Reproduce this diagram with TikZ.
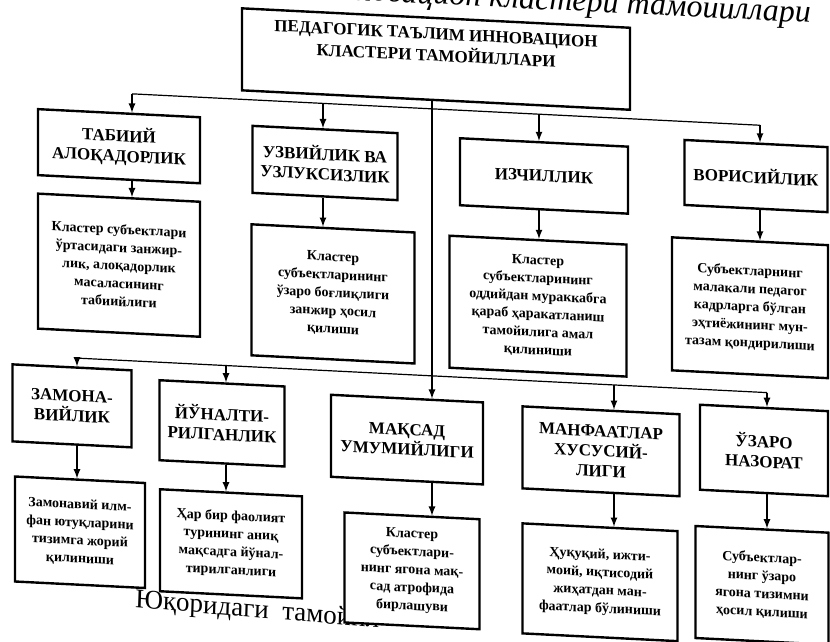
\documentclass[tikz,border=0pt]{standalone}
\usepackage{fontspec}
\setmainfont{Liberation Serif}
\begin{document}
\begin{tikzpicture}[x=0.5pt,y=-0.5pt,>=latex,
  head/.style={draw,line width=1.2pt,fill=white,align=center,inner sep=1pt,
    font=\bfseries\fontsize{8.5}{10}\selectfont},
  desc/.style={draw,line width=1.2pt,fill=white,align=center,inner sep=1pt,
    font=\bfseries\fontsize{7}{9}\selectfont},
  link/.style={line width=0.6pt}]

\useasboundingbox (0,0) rectangle (830,642);

\begin{scope}[shift={(415,0)},yslant=-0.05,shift={(-415,0)},transform shape]

% page text
\node [anchor=base east,font=\itshape\fontsize{16}{18}\selectfont] (caption) at (818,3) {инновацион кластери тамойиллари};
\node [anchor=base west,rotate=-2,font=\fontsize{13.5}{16}\selectfont] (para) at (128,621) {Юқоридаги\ \ тамойил};

% title
\node [head,minimum width=194pt,minimum height=41pt,font=\bfseries\fontsize{8.5}{11}\selectfont] (top) at (436,58) {ПЕДАГОГИК ТАЪЛИМ ИННОВАЦИОН\\КЛАСТЕРИ ТАМОЙИЛЛАРИ\\\strut};

% first row
\node [head,minimum width=81pt,minimum height=33pt] (tab) at (119,161) {ТАБИИЙ\\АЛОҚАДОРЛИК};
\node [desc,minimum width=81pt,minimum height=67.5pt] (tabd) at (119,280) {Кластер субъектлари\\ўртасидаги занжир-\\лик, алоқадорлик\\масаласининг\\табиийлиги};

\node [head,minimum width=72.5pt,minimum height=33.5pt] (uzv) at (325,167.5) {УЗВИЙЛИК ВА\\УЗЛУКСИЗЛИК};
\node [desc,minimum width=81.5pt,minimum height=65.5pt] (uzvd) at (333,298) {Кластер\\субъектларининг\\ўзаро боғлиқлиги\\занжир ҳосил\\қилиши};

\node [head,minimum width=84pt,minimum height=33.5pt] (izc) at (544,169.5) {ИЗЧИЛЛИК};
\node [desc,minimum width=88.5pt,minimum height=66pt] (izcd) at (538,300) {Кластер\\субъектларининг\\оддийдан мураккабга\\қараб ҳаракатланиш\\тамойилига амал\\қилиниши};

\node [head,minimum width=71.5pt,minimum height=32.5pt] (vor) at (756,159) {ВОРИСИЙЛИК};
\node [desc,minimum width=78pt,minimum height=66.5pt] (vord) at (750,291) {Субъектларнинг\\малакали педагог\\кадрларга бўлган\\эҳтиёжининг мун-\\тазам қондирилиши};

% second row
\node [head,minimum width=59.5pt,minimum height=38.5pt] (zam) at (72,423) {ЗАМОНА-\\ВИЙЛИК};
\node [desc,minimum width=65pt,minimum height=52.5pt] (zamd) at (80,549) {Замонавий илм-\\фан ютуқларини\\тизимга жорий\\қилиниши};

\node [head,minimum width=62.5pt,minimum height=40pt] (yun) at (222,433) {ЙЎНАЛТИ-\\РИЛГАНЛИК};
\node [desc,minimum width=71pt,minimum height=51pt] (yund) at (231,553) {Ҳар бир фаолият\\турининг аниқ\\мақсадга йўнал-\\тирилганлиги};

\node [head,minimum width=76pt,minimum height=41pt] (maq) at (407,440) {МАҚСАД\\УМУМИЙЛИГИ};
\node [desc,minimum width=67.5pt,minimum height=55pt] (maqd) at (412,571) {Кластер\\субъектлари-\\нинг ягона мақ-\\сад атрофида\\бирлашуви};

\node [head,minimum width=78.5pt,minimum height=41pt] (man) at (601,442) {МАНФААТЛАР\\ХУСУСИЙ-\\ЛИГИ};
\node [desc,minimum width=77.5pt,minimum height=55pt] (mand) at (600,573) {Ҳуқуқий, ижти-\\моий, иқтисодий\\жиҳатдан ман-\\фаатлар бўлиниши};

\node [head,minimum width=64pt,minimum height=42.5pt] (uza) at (764,433) {ЎЗАРО\\НАЗОРАТ};
\node [desc,minimum width=66.5pt,minimum height=56pt] (uzad) at (762,568) {Субъектлар-\\нинг ўзаро\\ягона тизимни\\ҳосил қилиши};

% upper bus
\coordinate (u1) at (132,108);
\coordinate (u2) at (323,108);
\coordinate (u3) at (539,108);
\coordinate (u4) at (760,108);
\draw [link] (u1) -- (u4);
\draw [link,->] (u1) -- (u1 |- tab.north);
\draw [link,->] (u2) -- (u2 |- uzv.north);
\draw [link,->] (u3) -- (u3 |- izc.north);
\draw [link,->] (u4) -- (u4 |- vor.north);

\draw [link,->] (u1 |- tab.south) -- (u1 |- tabd.north);
\draw [link,->] (u2 |- uzv.south) -- (u2 |- uzvd.north);
\draw [link,->] (u3 |- izc.south) -- (u3 |- izcd.north);
\draw [link,->] (u4 |- vor.south) -- (u4 |- vord.north);

% spine
\coordinate (sp) at (432,0);
\draw [link,->] (sp |- top.south) -- (sp |- maq.north);

% lower bus
\coordinate (l1) at (77,375);
\coordinate (l2) at (226,375);
\coordinate (l4) at (614,375);
\coordinate (l5) at (767,375);
\draw [link] (l1) -- (l5);
\draw [link,->] (l1) -- (l1 |- zam.north);
\draw [link,->] (l2) -- (l2 |- yun.north);
\draw [link,->] (l4) -- (l4 |- man.north);
\draw [link,->] (l5) -- (l5 |- uza.north);

\draw [link,->] (l1 |- zam.south) -- (l1 |- zamd.north);
\draw [link,->] (l2 |- yun.south) -- (l2 |- yund.north);
\draw [link,->] (sp |- maq.south) -- (sp |- maqd.north);
\draw [link,->] (l4 |- man.south) -- (l4 |- mand.north);
\draw [link,->] (l5 |- uza.south) -- (l5 |- uzad.north);

\end{scope}
\end{tikzpicture}
\end{document}
